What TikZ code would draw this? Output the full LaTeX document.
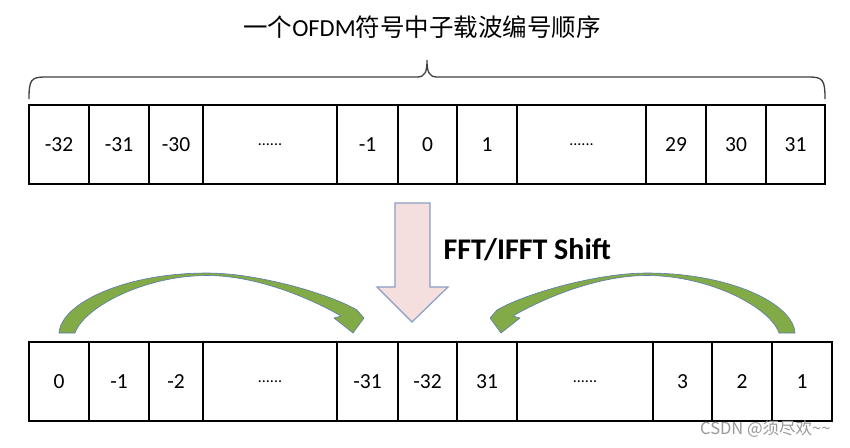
\documentclass[tikz,border=0pt]{standalone}
\usepackage{fontspec}
\setmainfont{Carlito}
\newfontfamily\cjk{Noto Sans CJK SC}
\definecolor{arrowgreen}{HTML}{82AA46}
\definecolor{arrowblue}{HTML}{5A7BB0}
\definecolor{pinkfill}{HTML}{F4DEDE}
\definecolor{pinkedge}{HTML}{8C9DC6}
\definecolor{braceline}{HTML}{404040}
\newcommand{\celldots}{{\fontsize{16}{20}\selectfont ......}}
\newcommand{\greenband}{(59,333) .. controls (61,303) and (125,273) .. (207,273)
  .. controls (258,273) and (330,294) .. (357,310) -- (364,318) -- (353,333)
  -- (334,318) -- (341,316) .. controls (324,306) and (265,275.5) .. (207,275.5)
  .. controls (145,275.5) and (84,307) .. (75,333) -- cycle}
\begin{document}
\begin{tikzpicture}[x=1pt,y=-1pt,
  cell/.style={draw=black, line width=2.6pt, inner sep=0pt, minimum height=79pt,
               font=\fontsize{21.5}{25}\selectfont},
  bandarrow/.style={fill=arrowgreen, draw=arrowblue, line width=0.6pt, line join=round},
  blockarrow/.style={fill=pinkfill, draw=pinkedge, line width=1.2pt, line join=miter},
  bracestyle/.style={draw=braceline, line width=1.3pt},
]
\useasboundingbox (0,0) rectangle (850,447);
\fill[white] (0,0) rectangle (850,447);

% title
\node[font=\fontsize{24.5}{28}\selectfont] (title) at (422,27)
  {{\cjk 一个}OFDM{\cjk 符号中子载波编号顺序}};

% brace
\draw[bracestyle] (29,99) .. controls (29,80) and (31,77) .. (45,77) -- (417,77)
  .. controls (425,77) and (427,72) .. (427,60)
  .. controls (427,72) and (429,77) .. (437,77) -- (809,77)
  .. controls (823,77) and (825,80) .. (825,99);

% top row
\foreach \l/\r/\t [count=\i] in {29/89/-32, 89/149/-31, 149/203/-30, 203/337/\celldots,
    337/398/-1, 398/457/0, 457/517/1, 517/646/\celldots, 646/706/29, 706/766/30, 766/825/31}
  \node[cell, minimum width={\r-\l}] (t\i) at ({(\l+\r)/2},144.5) {\t};

% bottom row
\foreach \l/\r/\t [count=\i] in {29/89/0, 89/149/-1, 149/203/-2, 203/337/\celldots,
    337/398/-31, 398/457/-32, 457/517/31, 517/653/\celldots, 653/712/3, 712/772/2, 772/832/1}
  \node[cell, minimum width={\r-\l}] (b\i) at ({(\l+\r)/2},381.5) {\t};

% pink block arrow
\draw[blockarrow] (395,203) -- (430,203) -- (430,287) -- (448,287) -- (412,322)
  -- (377,287) -- (395,287) -- cycle;

% label
\node[anchor=base west, font=\bfseries\fontsize{30}{34}\selectfont] (lbl) at (440,259) {FFT/IFFT Shift};

% green curved arrows
\path[bandarrow] \greenband;
\begin{scope}[shift={(854,0)}, xscale=-1]
\path[bandarrow] \greenband;
\end{scope}

% watermark
\node[anchor=east, text=black!40, font=\cjk\fontsize{16.5}{19}\selectfont] (wm) at (834,429)
  {CSDN @须尽欢\textasciitilde\textasciitilde};
\end{tikzpicture}
\end{document}
